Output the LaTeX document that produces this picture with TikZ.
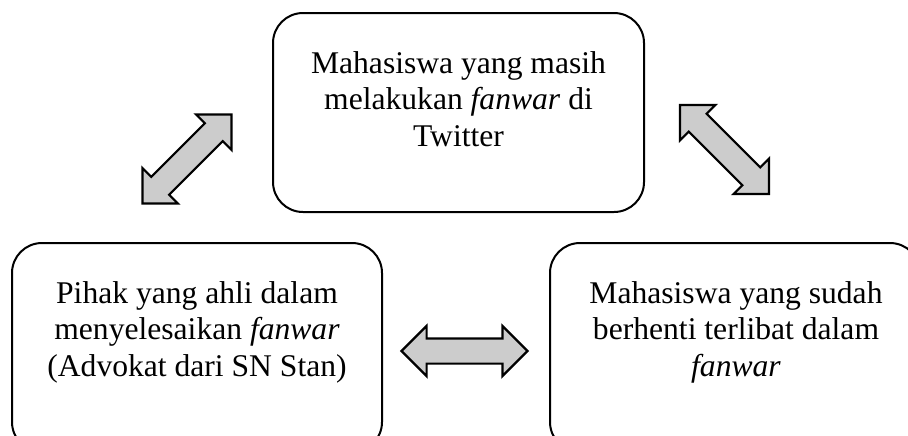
\documentclass[tikz,border=0pt]{standalone}
\usepackage{fontspec}
\setmainfont{Liberation Serif}
\usetikzlibrary{shapes,arrows,positioning}
\definecolor{arrowgray}{RGB}{204,204,204}

\begin{document}
\begin{tikzpicture}[x=0.5pt, y=-0.5pt,
  box/.style={draw, line width=1pt, rounded corners=15pt, inner sep=0pt},
  txt/.style={align=center, inner sep=0pt, anchor=north, font=\fontsize{15.8}{18.25}\selectfont},
  dblarrow/.style={double arrow, draw, line width=1.1pt, fill=arrowgray, inner xsep=0pt, inner ysep=5.75pt,
    minimum width=24pt, double arrow head extend=6.25pt, minimum height=63pt}]
  \useasboundingbox (0,0) rectangle (908,435);
  \clip (0,0) rectangle (908,435);
  % boxes
  \node[box, minimum width=185.5pt, minimum height=99.5pt] (twitter) at (458.5,112.5) {};
  \node[box, minimum width=185pt, minimum height=104.5pt] (ahli) at (197,347.5) {};
  \node[box, minimum width=185pt, minimum height=104.5pt] (berhenti) at (735,347.5) {};
  % texts
  \node[txt] (twittertext) at (458.5,51) {Mahasiswa yang masih\\melakukan \textit{fanwar} di\\Twitter};
  \node[txt] (ahlitext) at (197,281) {Pihak yang ahli dalam\\menyelesaikan \textit{fanwar}\\(Advokat dari SN Stan)};
  \node[txt] (berhentitext) at (736,281) {Mahasiswa yang sudah\\berhenti terlibat dalam\\\textit{fanwar}};
  % arrows
  \node[dblarrow, rotate=45] (arrowleft) at (187,159) {};
  \node[dblarrow, rotate=-45] (arrowright) at (724.5,149.5) {};
  \node[dblarrow] (arrowmid) at (464.5,351) {};
\end{tikzpicture}
\end{document}
